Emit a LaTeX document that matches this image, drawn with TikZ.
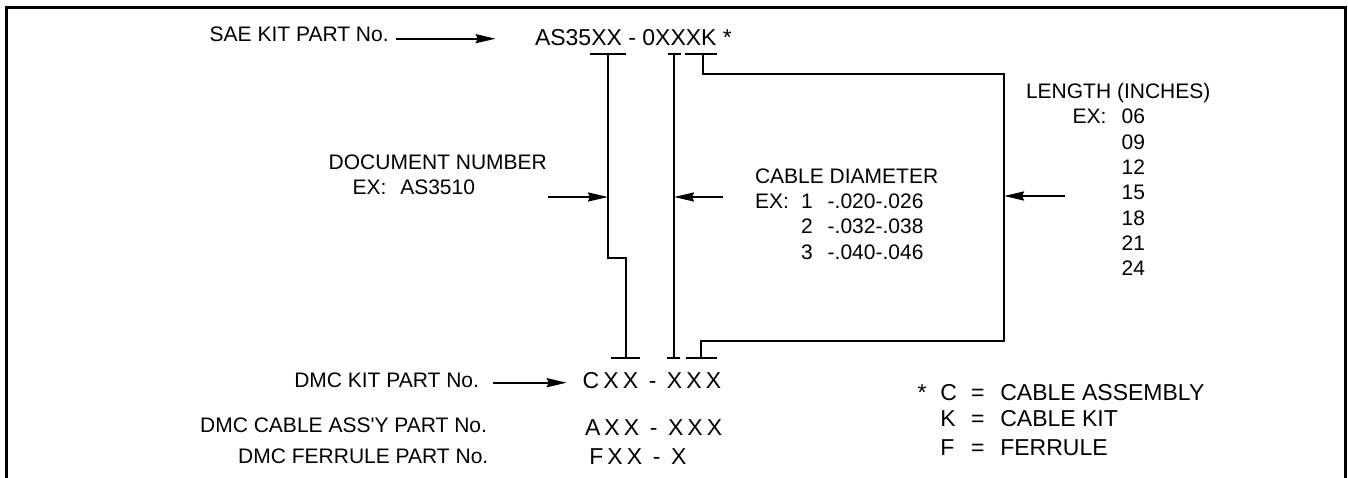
\documentclass[tikz,border=0pt]{standalone}
\usepackage{fontspec}
\setmainfont{Liberation Sans}
\usetikzlibrary{arrows.meta}
\begin{document}
\begin{tikzpicture}[x=1pt,y=-1pt,line width=2pt,
  lbl/.style={inner sep=0pt,anchor=base west,font=\fontsize{21}{25}\selectfont},
  lble/.style={inner sep=0pt,anchor=base east,font=\fontsize{21}{25}\selectfont},
  topcode/.style={inner sep=0pt,anchor=base west,font=\fontsize{23}{27}\selectfont},
  spcode/.style={inner sep=0pt,anchor=base west,font=\fontsize{23}{27}\selectfont\addfontfeature{LetterSpace=18}},
  legend/.style={inner sep=0pt,anchor=base west,font=\fontsize{23}{27}\selectfont},
  arr/.style={-{Stealth[length=20pt,width=9pt,inset=2pt]},line width=2pt},
  frame/.style={line width=3pt}]
\useasboundingbox (0,0) rectangle (1348,478);
% frame (open at the bottom)
\draw[frame] (6,478) -- (6,8) -- (1345,8) -- (1345,478);

% top
\node[lbl] (sae) at (208.7,41.4) {SAE KIT PART No.};
\node[topcode] (saecode) at (534,46) {AS35XX - 0XXXK *};
\coordinate (saeA) at (396,38.7);
\coordinate (saeB) at (495.7,38.7);
\draw[arr] (saeA) -- (saeB);

% tick coordinates
\coordinate (t1l) at (589.5,54); \coordinate (t1r) at (626,54); \coordinate (t1) at (608,54);
\coordinate (j1) at (608,258); \coordinate (j2) at (626,258); \coordinate (b1) at (626,358);
\coordinate (b1l) at (611,358); \coordinate (b1r) at (640,358);
\coordinate (t2l) at (668,54); \coordinate (t2r) at (681,54); \coordinate (t2) at (674,54);
\coordinate (b2) at (674,358); \coordinate (b2l) at (667,358); \coordinate (b2r) at (680,358);
\coordinate (t3l) at (685,54); \coordinate (t3r) at (716.5,54); \coordinate (t3) at (703,54);
\coordinate (k1) at (703,74); \coordinate (k2) at (1004,74); \coordinate (k3) at (1004,341);
\coordinate (k4) at (701,341); \coordinate (b3) at (701,358);
\coordinate (b3l) at (686,358); \coordinate (b3r) at (717,358);

\draw (t1l) -- (t1r);
\draw (t1) -- (j1) -- (j2) -- (b1);
\draw (b1l) -- (b1r);
\draw (t2l) -- (t2r);
\draw (t2) -- (b2);
\draw (b2l) -- (b2r);
\draw (t3l) -- (t3r);
\draw (t3) -- (k1) -- (k2) -- (k3) -- (k4) -- (b3);
\draw (b3l) -- (b3r);

% arrows to brackets
\coordinate (a1s) at (548,197); \coordinate (a1e) at (608,197);
\coordinate (a2s) at (723,197); \coordinate (a2e) at (674,197);
\coordinate (a3s) at (1065,196); \coordinate (a3e) at (1004,196);
\draw[arr] (a1s) -- (a1e);
\draw[arr] (a2s) -- (a2e);
\draw[arr] (a3s) -- (a3e);

% document number
\node[lbl] (docnum) at (327.7,169.3) {DOCUMENT NUMBER};
\node[lbl] (docex) at (351.7,195) {EX:};
\node[lbl] (docval) at (399.3,195) {AS3510};

% cable diameter
\node[lbl] (cabdia) at (754,183.3) {CABLE DIAMETER};
\node[lbl] (cabex) at (754,209) {EX:};
\node[lbl] (cab1) at (800,209) {1};
\node[lbl] (cab1v) at (826.7,209) {-.020-.026};
\node[lbl] (cab2) at (800,234) {2};
\node[lbl] (cab2v) at (826.7,234) {-.032-.038};
\node[lbl] (cab3) at (800,259) {3};
\node[lbl] (cab3v) at (826.7,259) {-.040-.046};

% length
\node[lbl] (len) at (1025,98.3) {LENGTH (INCHES)};
\node[lbl] (lenex) at (1071.7,124) {EX:};
\node[lbl] (l06) at (1120.7,124) {06};
\node[lbl] (l09) at (1120.7,149.3) {09};
\node[lbl] (l12) at (1120.7,174.6) {12};
\node[lbl] (l15) at (1120.7,199.9) {15};
\node[lbl] (l18) at (1120.7,225.2) {18};
\node[lbl] (l21) at (1120.7,250.5) {21};
\node[lbl] (l24) at (1120.7,275.8) {24};

% bottom
\node[lble] (dmckit) at (480,387) {DMC KIT PART No.};
\coordinate (dkA) at (493,382.7);
\coordinate (dkB) at (566.7,382.7);
\draw[arr] (dkA) -- (dkB);
\node[spcode] (cxx) at (581.7,388.3) {CXX - XXX};
\node[lble] (dmcass) at (488,432.7) {DMC CABLE ASS\textquotesingle Y PART No.};
\node[spcode] (axx) at (584,435) {AXX - XXX};
\node[lble] (dmcfer) at (489.3,463.3) {DMC FERRULE PART No.};
\node[spcode] (fxx) at (588.3,464) {FXX - X};

% legend
\node[legend] (star) at (916.7,400) {*};
\node[legend] (legC) at (939.3,400) {C};
\node[legend] (eqC) at (970,400) {=};
\node[legend] (txtC) at (999.3,400) {CABLE ASSEMBLY};
\node[legend] (legK) at (939.3,426.7) {K};
\node[legend] (eqK) at (970,426.7) {=};
\node[legend] (txtK) at (999.3,426.7) {CABLE KIT};
\node[legend] (legF) at (939.3,455) {F};
\node[legend] (eqF) at (970,455) {=};
\node[legend] (txtF) at (999.3,455) {FERRULE};
\end{tikzpicture}
\end{document}
